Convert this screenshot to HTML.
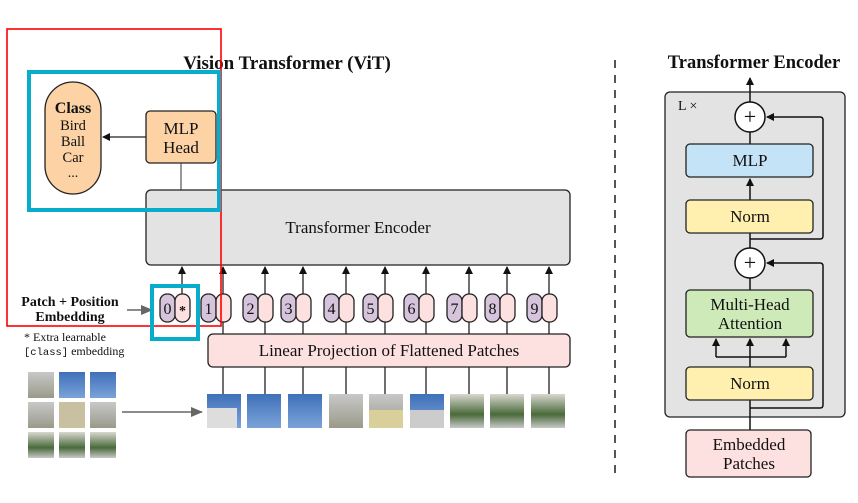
<!DOCTYPE html>
<html><head><meta charset="utf-8"><style>body{margin:0;background:#fff}svg{display:block}text{font-family:"Liberation Serif",serif;fill:#111}</style></head><body>
<svg width="858" height="503" viewBox="0 0 858 503" xmlns="http://www.w3.org/2000/svg">
<defs>
<marker id="a" markerWidth="8" markerHeight="8" refX="7" refY="4" orient="auto" markerUnits="userSpaceOnUse"><path d="M0,0 L8,4 L0,8z" fill="#111"/></marker>
<marker id="g" markerWidth="12" markerHeight="10" refX="11" refY="5" orient="auto" markerUnits="userSpaceOnUse"><path d="M0,0 L12,5 L0,10z" fill="#666"/></marker>
<linearGradient id="sky" x1="0" y1="0" x2="0" y2="1"><stop offset="0" stop-color="#3f70b8"/><stop offset="1" stop-color="#7aa3d8"/></linearGradient>
<linearGradient id="bld" x1="0" y1="0" x2="0" y2="1"><stop offset="0" stop-color="#c8c8c8"/><stop offset="1" stop-color="#9a9a8a"/></linearGradient>
<linearGradient id="grn" x1="0" y1="0" x2="0" y2="1"><stop offset="0" stop-color="#d8d8d0"/><stop offset="0.6" stop-color="#4a6a3a"/><stop offset="1" stop-color="#c8c8c8"/></linearGradient>
</defs>
<text x="287" y="69" font-size="19" font-weight="bold" text-anchor="middle">Vision Transformer (ViT)</text>
<rect x="45" y="82" width="56" height="112" rx="28" fill="#fdd3a6" stroke="#222" stroke-width="1.3"/>
<text x="73" y="113" font-size="16" font-weight="bold" text-anchor="middle">Class</text>
<text x="73" y="130" font-size="14.5" text-anchor="middle">Bird</text>
<text x="73" y="146" font-size="14.5" text-anchor="middle">Ball</text>
<text x="73" y="162" font-size="14.5" text-anchor="middle">Car</text>
<text x="73" y="177" font-size="14" text-anchor="middle">...</text>
<rect x="146" y="111" width="70" height="52" rx="4" fill="#fdd3a6" stroke="#222" stroke-width="1.3"/>
<text x="181" y="134" font-size="17" text-anchor="middle">MLP</text>
<text x="181" y="153" font-size="17" text-anchor="middle">Head</text>
<line x1="146" y1="137" x2="103" y2="137" stroke="#222" stroke-width="1.3" marker-end="url(#a)"/>
<line x1="181" y1="163" x2="181" y2="190" stroke="#333" stroke-width="1"/>
<rect x="146" y="190" width="424" height="75" rx="5" fill="#e3e3e3" stroke="#222" stroke-width="1.3"/>
<text x="358" y="233" font-size="17" text-anchor="middle">Transformer Encoder</text>
<g stroke="#222" stroke-width="1.3" fill="none">
<line x1="182" y1="294" x2="182" y2="267" marker-end="url(#a)"/>
<line x1="223" y1="294" x2="223" y2="267" marker-end="url(#a)"/>
<line x1="265" y1="294" x2="265" y2="267" marker-end="url(#a)"/>
<line x1="303" y1="294" x2="303" y2="267" marker-end="url(#a)"/>
<line x1="346" y1="294" x2="346" y2="267" marker-end="url(#a)"/>
<line x1="385" y1="294" x2="385" y2="267" marker-end="url(#a)"/>
<line x1="426" y1="294" x2="426" y2="267" marker-end="url(#a)"/>
<line x1="469" y1="294" x2="469" y2="267" marker-end="url(#a)"/>
<line x1="507" y1="294" x2="507" y2="267" marker-end="url(#a)"/>
<line x1="549" y1="294" x2="549" y2="267" marker-end="url(#a)"/>
<path d="M223,322V334M265,322V334M303,322V334M346,322V334M385,322V334M426,322V334M469,322V334M507,322V334M549,322V334"/>
<path d="M223,367V394M265,367V394M303,367V394M346,367V394M385,367V394M426,367V394M469,367V394M507,367V394M549,367V394"/>
</g>
<g stroke="#222" stroke-width="1.3">
<rect x="160" y="294" width="15" height="28" rx="7" fill="#d6c4dc"/><rect x="175" y="294" width="15" height="28" rx="7" fill="#fde0e0"/>
<rect x="201" y="294" width="15" height="28" rx="7" fill="#d6c4dc"/><rect x="216" y="294" width="15" height="28" rx="7" fill="#fde0e0"/>
<rect x="243" y="294" width="15" height="28" rx="7" fill="#d6c4dc"/><rect x="258" y="294" width="15" height="28" rx="7" fill="#fde0e0"/>
<rect x="281" y="294" width="15" height="28" rx="7" fill="#d6c4dc"/><rect x="296" y="294" width="15" height="28" rx="7" fill="#fde0e0"/>
<rect x="324" y="294" width="15" height="28" rx="7" fill="#d6c4dc"/><rect x="339" y="294" width="15" height="28" rx="7" fill="#fde0e0"/>
<rect x="363" y="294" width="15" height="28" rx="7" fill="#d6c4dc"/><rect x="378" y="294" width="15" height="28" rx="7" fill="#fde0e0"/>
<rect x="404" y="294" width="15" height="28" rx="7" fill="#d6c4dc"/><rect x="419" y="294" width="15" height="28" rx="7" fill="#fde0e0"/>
<rect x="447" y="294" width="15" height="28" rx="7" fill="#d6c4dc"/><rect x="462" y="294" width="15" height="28" rx="7" fill="#fde0e0"/>
<rect x="485" y="294" width="15" height="28" rx="7" fill="#d6c4dc"/><rect x="500" y="294" width="15" height="28" rx="7" fill="#fde0e0"/>
<rect x="527" y="294" width="15" height="28" rx="7" fill="#d6c4dc"/><rect x="542" y="294" width="15" height="28" rx="7" fill="#fde0e0"/>
</g>
<g font-size="16" text-anchor="middle">
<text x="167.5" y="314">0</text><text x="182.5" y="315" font-weight="bold" font-size="14">*</text>
<text x="208.5" y="314">1</text><text x="250.5" y="314">2</text><text x="288.5" y="314">3</text><text x="331.5" y="314">4</text><text x="370.5" y="314">5</text><text x="411.5" y="314">6</text><text x="454.5" y="314">7</text><text x="492.5" y="314">8</text><text x="534.5" y="314">9</text>
</g>
<rect x="208" y="334" width="362" height="33" rx="5" fill="#fde0e0" stroke="#222" stroke-width="1.3"/>
<text x="389" y="356" font-size="17" text-anchor="middle">Linear Projection of Flattened Patches</text>
<g>
<rect x="207" y="394" width="34" height="34" fill="url(#sky)"/><rect x="207" y="408" width="30" height="20" fill="#ddd"/>
<rect x="247" y="394" width="34" height="34" fill="url(#sky)"/>
<rect x="288" y="394" width="34" height="34" fill="url(#sky)"/>
<rect x="329" y="394" width="34" height="34" fill="url(#bld)"/>
<rect x="369" y="394" width="34" height="34" fill="url(#bld)"/><rect x="369" y="410" width="34" height="18" fill="#d8cf9a"/>
<rect x="410" y="394" width="34" height="34" fill="url(#sky)"/><rect x="410" y="410" width="34" height="18" fill="#ccc"/>
<rect x="450" y="394" width="34" height="34" fill="url(#grn)"/>
<rect x="490" y="394" width="34" height="34" fill="url(#grn)"/>
<rect x="531" y="394" width="34" height="34" fill="url(#grn)"/>
</g>
<g>
<rect x="28" y="372" width="26" height="26" fill="url(#bld)"/><rect x="59" y="372" width="26" height="26" fill="url(#sky)"/><rect x="90" y="372" width="26" height="26" fill="url(#sky)"/>
<rect x="28" y="402" width="26" height="26" fill="url(#bld)"/><rect x="59" y="402" width="26" height="26" fill="#c8c0a0"/><rect x="90" y="402" width="26" height="26" fill="url(#bld)"/>
<rect x="28" y="432" width="26" height="26" fill="url(#grn)"/><rect x="59" y="432" width="26" height="26" fill="url(#grn)"/><rect x="90" y="432" width="26" height="26" fill="url(#grn)"/>
</g>
<line x1="122" y1="412" x2="202" y2="412" stroke="#666" stroke-width="1.5" marker-end="url(#g)"/>
<line x1="127" y1="310" x2="152" y2="310" stroke="#666" stroke-width="1.5" marker-end="url(#g)"/>
<text x="70" y="306" font-size="14" font-weight="bold" text-anchor="middle">Patch + Position</text>
<text x="70" y="321" font-size="14" font-weight="bold" text-anchor="middle">Embedding</text>
<text x="24" y="341" font-size="12">* Extra learnable</text>
<text x="24" y="355" font-size="12"><tspan font-family="Liberation Mono" font-size="10.5">[class]</tspan> embedding</text>
<rect x="7" y="29" width="214" height="297" fill="none" stroke="#ff0000" stroke-width="1.6"/>
<rect x="29" y="72" width="190" height="138" fill="none" stroke="#0aaccc" stroke-width="4"/>
<rect x="152" y="286" width="46" height="53" fill="none" stroke="#0aaccc" stroke-width="4"/>
<line x1="615" y1="60" x2="615" y2="478" stroke="#555" stroke-width="2" stroke-dasharray="8,7"/>
<text x="754" y="68" font-size="18.5" font-weight="bold" text-anchor="middle">Transformer Encoder</text>
<rect x="665" y="92" width="180" height="325" rx="5" fill="#e3e3e3" stroke="#222" stroke-width="1.3"/>
<text x="678" y="110" font-size="14" font-family="Liberation Sans">L ×</text>
<g stroke="#111" stroke-width="1.5" fill="none">
<line x1="750" y1="102" x2="750" y2="78" marker-end="url(#a)"/>
<line x1="750" y1="144" x2="750" y2="132"/>
<line x1="750" y1="200" x2="750" y2="179" marker-end="url(#a)"/>
<line x1="750" y1="233" x2="750" y2="248"/>
<path d="M750,239H820Q823,239 823,236V120Q823,117 820,117H767" marker-end="url(#a)"/>
<line x1="750" y1="278" x2="750" y2="290"/>
<path d="M750,408H820Q823,408 823,405V266Q823,263 820,263H767" marker-end="url(#a)"/>
<line x1="750" y1="430" x2="750" y2="339" marker-end="url(#a)"/>
<path d="M716,357H786"/>
<line x1="716" y1="357" x2="716" y2="339" marker-end="url(#a)"/>
<line x1="786" y1="357" x2="786" y2="339" marker-end="url(#a)"/>
</g>
<circle cx="750" cy="117" r="15" fill="#fff" stroke="#111" stroke-width="1.5"/>
<text x="750" y="124" font-size="22" text-anchor="middle" font-family="Liberation Sans">+</text>
<circle cx="750" cy="263" r="15" fill="#fff" stroke="#111" stroke-width="1.5"/>
<text x="750" y="270" font-size="22" text-anchor="middle" font-family="Liberation Sans">+</text>
<rect x="686" y="144" width="127" height="33" rx="4" fill="#c5e3f6" stroke="#222" stroke-width="1.3"/>
<text x="750" y="166" font-size="17" text-anchor="middle">MLP</text>
<rect x="686" y="200" width="127" height="33" rx="4" fill="#fff0b0" stroke="#222" stroke-width="1.3"/>
<text x="750" y="222" font-size="17" text-anchor="middle">Norm</text>
<rect x="686" y="290" width="127" height="47" rx="4" fill="#cdeab8" stroke="#222" stroke-width="1.3"/>
<text x="750" y="310" font-size="17" text-anchor="middle">Multi-Head</text>
<text x="750" y="329" font-size="17" text-anchor="middle">Attention</text>
<rect x="686" y="367" width="127" height="33" rx="4" fill="#fff0b0" stroke="#222" stroke-width="1.3"/>
<text x="750" y="389" font-size="17" text-anchor="middle">Norm</text>
<rect x="686" y="430" width="125" height="47" rx="4" fill="#fde0e0" stroke="#222" stroke-width="1.3"/>
<text x="749" y="450" font-size="17" text-anchor="middle">Embedded</text>
<text x="749" y="469" font-size="17" text-anchor="middle">Patches</text>
</svg>
</body></html>
